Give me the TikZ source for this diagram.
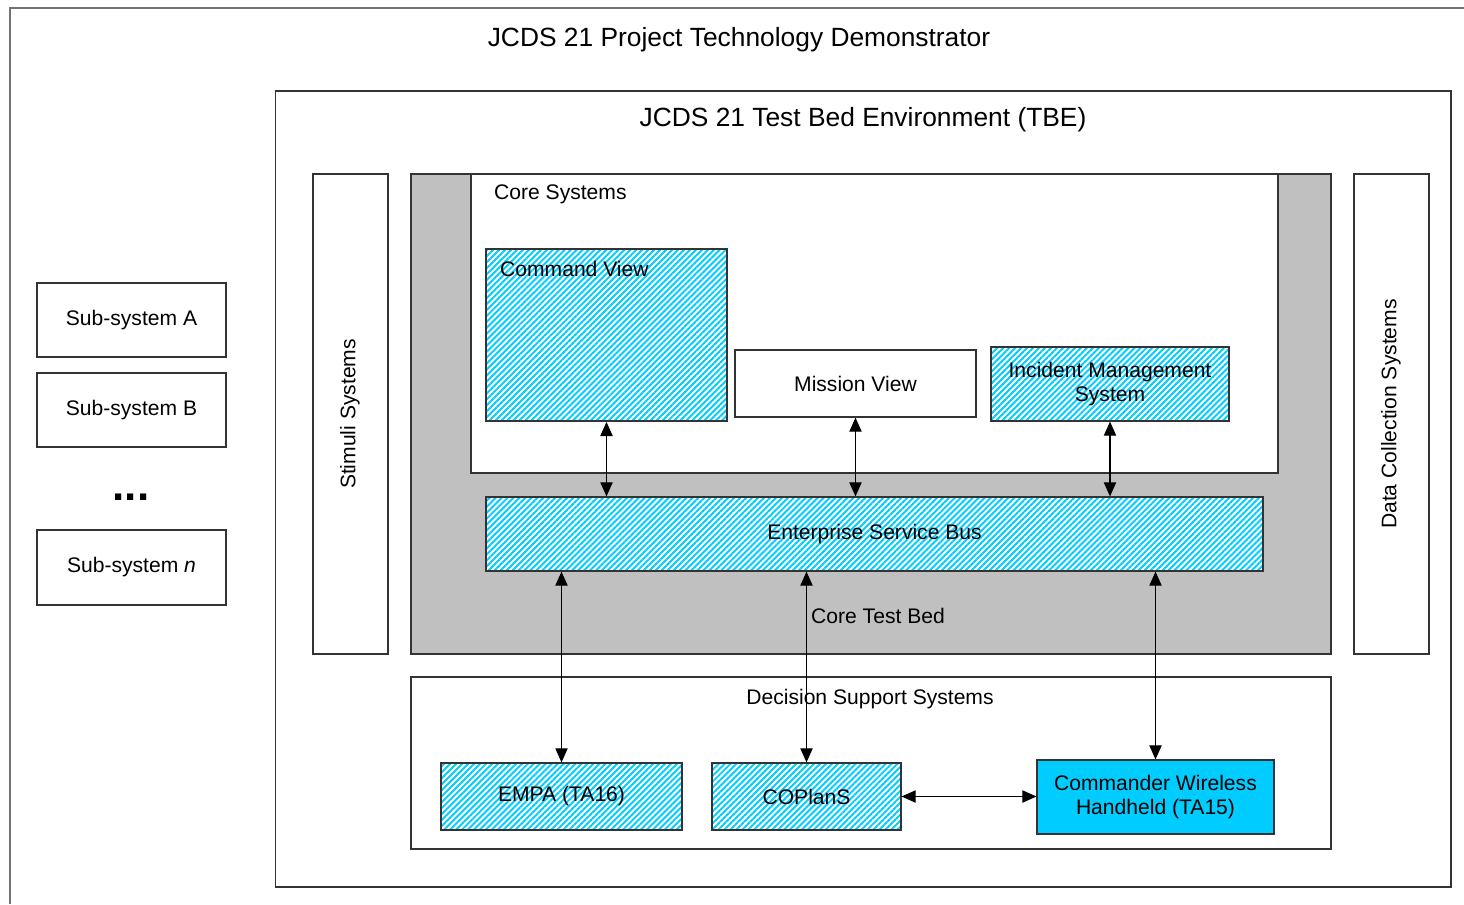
\documentclass[tikz,border=0pt]{standalone}
\usepackage{fontspec}
\setmainfont{Liberation Sans}
\usetikzlibrary{arrows.meta,patterns.meta}
\definecolor{hatchcyan}{HTML}{00CCFF}
\definecolor{bedgray}{HTML}{C0C0C0}
\tikzset{
  box/.style={draw=black!80, line width=0.7pt, fill=white, inner sep=0pt},
  hatchbox/.style={draw=black!80, line width=0.7pt, inner sep=0pt, align=center,
    preaction={fill=white},
    pattern={Lines[angle=45,distance=2.4pt,line width=1.1pt]}, pattern color=hatchcyan},
  link/.style={line width=0.6pt, {Triangle[width=7pt,length=8pt]}-{Triangle[width=7pt,length=8pt]}},
}

\begin{document}
\begin{tikzpicture}[x=0.02cm, y=-0.02cm, font=\fontsize{12}{14}\selectfont]
        \useasboundingbox (0,0) rectangle (1464,904);

        % Draw the outer frame and its title
        \draw[black!55, line width=0.7pt] (10,904) -- (10,8) -- (1464,8);
        \node (title) at (739,40) {\fontsize{15}{18}\selectfont JCDS 21 Project Technology Demonstrator};

        % Draw the sub-systems on the left
        \node[box, minimum width=3.78cm, minimum height=1.48cm] (subA) at (131.5,320) {Sub-system A};
        \node[box, minimum width=3.78cm, minimum height=1.48cm] (subB) at (131.5,410) {Sub-system B};
        \node[anchor=base] (dots) at (131,500) {\fontsize{25}{27}\selectfont\bfseries...};
        \node[box, minimum width=3.78cm, minimum height=1.5cm] (subN) at (131.5,567.5) {Sub-system \textit{n}};

        % Draw the test bed environment
        \node[box, minimum width=23.52cm, minimum height=15.92cm] (tbe) at (863,489) {};
        \node (tbetitle) at (863,120) {\fontsize{15}{18}\selectfont JCDS 21 Test Bed Environment (TBE)};
        \node[box, minimum width=1.5cm, minimum height=9.6cm] (stimuli) at (350.5,414) {};
        \node[rotate=90] (stimlbl) at (350,414) {Stimuli Systems};
        \node[box, minimum width=1.5cm, minimum height=9.6cm] (datacoll) at (1391.5,414) {};
        \node[rotate=90] (datalbl) at (1391,414) {Data Collection Systems};

        % Draw the core test bed and the core systems
        \node[box, fill=bedgray, minimum width=18.4cm, minimum height=9.6cm] (coretb) at (871,414) {};
        \node[box, minimum width=16.14cm, minimum height=5.98cm] (coresys) at (874.5,323.5) {};
        \node[anchor=west] (corelbl) at (488,194) {Core Systems};
        \node[hatchbox, minimum width=4.82cm, minimum height=3.44cm] (cmdview) at (606.5,335) {};
        \node[anchor=west] (cmdlbl) at (494,269) {Command View};
        \node[box, minimum width=4.82cm, minimum height=1.34cm] (mission) at (855.5,383.5) {Mission View};
        \node[hatchbox, minimum width=4.76cm, minimum height=1.48cm] (ims) at (1110,384) {Incident Management\\System};
        \node[hatchbox, minimum width=15.54cm, minimum height=1.48cm] (esb) at (874.5,534) {Enterprise Service Bus};
        \node (tblbl) at (878,616) {Core Test Bed};

        % Draw the decision support systems
        \node[box, minimum width=18.4cm, minimum height=3.44cm] (dss) at (871,763) {};
        \node (dsslbl) at (870,699) {Decision Support Systems};
        \node[hatchbox, minimum width=4.82cm, minimum height=1.34cm] (empa) at (561.5,796.5) {EMPA (TA16)};
        \node[hatchbox, minimum width=3.78cm, minimum height=1.34cm] (coplans) at (806.5,796.5) {COPlanS};
        \node[box, fill=hatchcyan, align=center, minimum width=4.74cm, minimum height=1.48cm] (cwh) at (1155.5,797) {Commander Wireless\\Handheld (TA15)};

        % Connect the systems to the bus
        \draw[link] (cmdview.south) -- (cmdview.south |- esb.north);
        \draw[link] (mission.south) -- (mission.south |- esb.north);
        \draw[link] (ims.south) -- (ims.south |- esb.north);
        \draw[link] (esb.south -| empa.north) -- (empa.north);
        \draw[link] (esb.south -| coplans.north) -- (coplans.north);
        \draw[link] (esb.south -| cwh.north) -- (cwh.north);
        \draw[link] (coplans.east) -- (coplans.east -| cwh.west);
    \end{tikzpicture}
\end{document}
